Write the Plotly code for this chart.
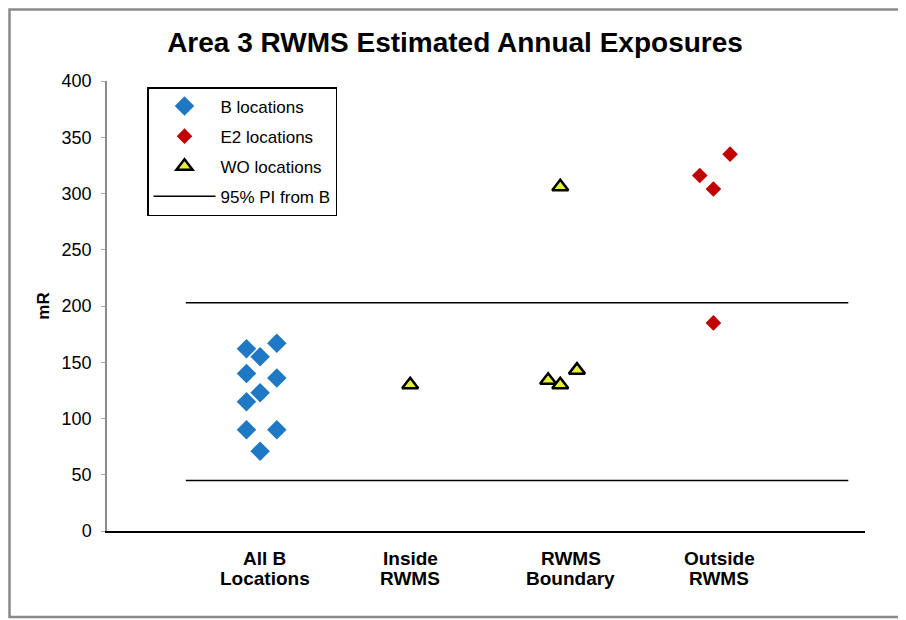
import plotly.graph_objects as go

title = "Area 3 RWMS Estimated Annual Exposures"
categories = [["All B", "Locations"], ["Inside", "RWMS"], ["RWMS", "Boundary"], ["Outside", "RWMS"]]
cat_pos = [1, 2, 3, 4]

b_x = [0.92, 1.12, 1.01, 0.92, 1.12, 1.01, 0.92, 0.92, 1.12, 1.01]
b_y = [162, 167, 155, 140, 136, 123, 115, 90, 90, 71]

e2_x = [4.11, 3.91, 4.0, 4.0]
e2_y = [335, 316, 304, 185]

wo_x = [2.0, 2.99, 2.91, 2.99, 3.1]
wo_y = [130, 306, 134, 130, 143]

pi_levels = [45, 203]
pi_x = [0.52, 4.89]

font = "Liberation Sans, Arial, sans-serif"

# page body has an 8px margin; figure coordinates are screen - 8
W, H = 898, 612
L, T, R, B = 99, 73, 41, 89
PX0, PY0 = 107, 81          # screen position of plot area top-left
PW, PH = 758, 450

def px(xs):  # screen x -> paper
    return (xs - PX0) / PW

def py(ys):  # screen y -> paper
    return (PY0 + PH - ys) / PH

fig = go.Figure()
fig.add_trace(go.Scatter(x=b_x, y=b_y, mode="markers", name="B locations",
                         marker=dict(symbol="diamond", size=15, color="#1E78C4",
                                     line=dict(width=0))))
fig.add_trace(go.Scatter(x=e2_x, y=e2_y, mode="markers", name="E2 locations",
                         marker=dict(symbol="diamond", size=12, color="#C00000",
                                     line=dict(width=0))))
fig.add_trace(go.Scatter(x=wo_x, y=wo_y, mode="markers", name="WO locations",
                         marker=dict(symbol="triangle-up", size=14, color="#E6F03C",
                                     line=dict(width=2.5, color="#000000"))))
lx, ly = [], []
for lev in pi_levels:
    lx += [pi_x[0], pi_x[1], None]
    ly += [lev, lev, None]
fig.add_trace(go.Scatter(x=lx, y=ly, mode="lines", name="95% PI from B",
                         line=dict(color="#000000", width=1.5)))
for i in range(4):
    fig.data[i].legendgroup = "g%d" % i

label_shift = [6, 0, 9, 6]
annotations = []
for pos, lines, sh in zip(cat_pos, categories, label_shift):
    for k, txt in enumerate(lines):
        annotations.append(dict(x=pos, xref="x", y=py(558 + 20 * k), yref="paper",
                                text="<b>" + txt + "</b>", showarrow=False,
                                xanchor="center", yanchor="middle", xshift=sh,
                                font=dict(size=19, family=font, color="#000000")))

fig.update_layout(
    width=W, height=H,
    margin=dict(l=L, r=R, t=T, b=B),
    paper_bgcolor="white", plot_bgcolor="white",
    font=dict(family=font, size=16, color="#000000"),
    title=dict(text="<b>" + title + "</b>", x=(455 - 8) / W, xanchor="center",
               y=1 - (42 - 8) / H, yanchor="middle",
               font=dict(size=28, family=font)),
    showlegend=True,
    legend=dict(x=px(147), y=py(87), xanchor="left", yanchor="top",
                bordercolor="#000000", borderwidth=1.5, bgcolor="white",
                font=dict(size=17, family=font), traceorder="grouped",
                tracegroupgap=5, itemwidth=62),
    xaxis=dict(range=[0, 5], tickvals=cat_pos, ticktext=["" for _ in cat_pos],
               showgrid=False, zeroline=False, showline=True, linecolor="#000000",
               linewidth=1.5, ticks=""),
    yaxis=dict(range=[0, 400], dtick=50, showgrid=False, zeroline=False,
               showline=True, linecolor="#8c8c8c", linewidth=1.5,
               ticks="outside", ticklen=4, tickcolor="#aaaaaa",
               ticklabelstandoff=6,
               tickfont=dict(size=18, family=font),
               title=dict(text="<b>mR</b>", font=dict(size=17, family=font), standoff=8)),
    annotations=annotations,
    shapes=[dict(type="rect", xref="paper", yref="paper",
                 x0=px(9.5), x1=px(903.5),
                 y0=py(617), y1=py(9.5),
                 line=dict(color="#8a8a8a", width=2.5), layer="below")],
)

fig.write_html("out.html")
